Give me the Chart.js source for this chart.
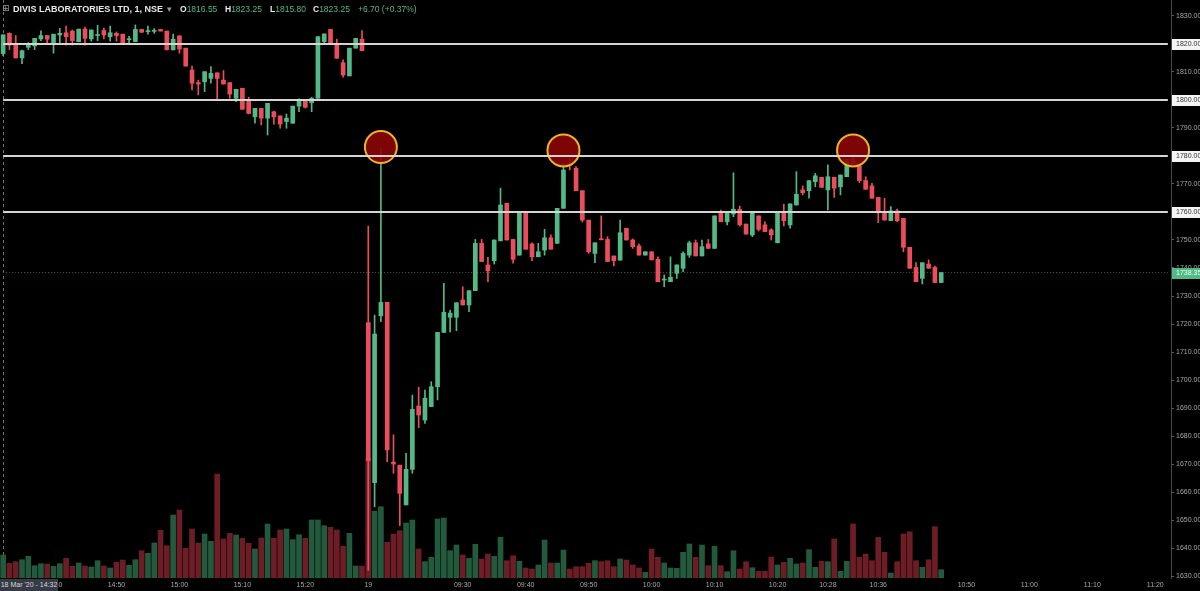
<!DOCTYPE html>
<html>
<head>
<meta charset="utf-8">
<script src="https://cdn.jsdelivr.net/npm/chart.js@4.4.0/dist/chart.umd.min.js"></script>
<style>
  html, body { margin: 0; padding: 0; background: #000; }
  #wrap { position: relative; width: 1200px; height: 591px; }
  #legend span { position: absolute; top: 4px; font: 8.5px "Liberation Sans", Arial, sans-serif; white-space: nowrap; line-height: 10px; }
  #legend .name { font-weight: bold; font-size: 9px; color: #e8e8e8; }
  #legend .k { color: #e8e8e8; }
  #legend .v { color: #53b987; }
  #dateBox { position: absolute; left: 0; top: 579px; width: 58px; height: 12px; background: #363a45;
             color: #d8d8d8; font: 7px "Liberation Sans", Arial, sans-serif; line-height: 12px; text-align: center; }
</style>
</head>
<body>
<div id="wrap">
  <canvas id="chart"></canvas>
  <div id="legend">
    <span style="left:2px;top:3px;color:#9a9a9a;font-size:9px;font-family:'DejaVu Sans'">⊞</span>
    <span class="name" style="left:13px">DIVIS LABORATORIES LTD, 1, NSE</span>
    <span style="left:167px;color:#9a9a9a">▾</span>
    <span style="left:180px"><b class="k">O</b><i class="v" style="font-style:normal">1816.55</i></span>
    <span style="left:225px"><b class="k">H</b><i class="v" style="font-style:normal">1823.25</i></span>
    <span style="left:270px"><b class="k">L</b><i class="v" style="font-style:normal">1815.80</i></span>
    <span style="left:313px"><b class="k">C</b><i class="v" style="font-style:normal">1823.25</i></span>
    <span class="v" style="left:358px">+6.70 (+0.37%)</span>
  </div>
  <div id="dateBox">18 Mar '20 - 14:32</div>
</div>
<script>
// 1-minute candles: 18 Mar 14:32-15:29, then 19 Mar 09:15-10:46
const open = [
  1816.55,1823.8,1819.6,1815,1818.8,1819.3,1821.8,1823,1820.5,1823.2,
  1824,1824.6,1820.8,1825.3,1821.8,1823,1824.8,1822.6,1823.8,1823.5,
  1821.5,1820.8,1825.2,1824.4,1824.5,1825.2,1824.6,1817.9,1822.9,1818.5,
  1810.7,1806.2,1806.5,1807.7,1809.7,1807.1,1806.2,1800.6,1804.2,1800,
  1794,1797,1793.5,1795.8,1794.3,1792.3,1791.7,1797.8,1799.6,1799,
  1800.6,1820.8,1825.2,1819.6,1813.3,1808.6,1818.5,1821.7,
  1720.5,1663.3,
  1722.9,1727.7,1670.7,1669.6,1655.4,1668.1,1690.7,1685.7,1690.5,1697.6,
  1717,1722.4,1722.4,1728.6,1726.8,1731.9,1748.8,1741.1,1742.6,1749.7,
  1763.1,1750.2,1744.6,1759.7,1748.6,1744,1746.4,1750.8,1748.8,1761.3,
  1776.9,1775.6,1767.6,1757.1,1745.2,1750.3,1750.2,1744.3,1742.8,1754.2,
  1750,1747.9,1744.6,1745.8,1743.1,1735.7,1735.1,1738.1,1739.9,1744.6,
  1749,1744.3,1748.6,1747,1759.7,1756.5,1759.3,1761,1755.7,1751.8,
  1758.6,1755.4,1753.6,1749,1759.7,1755.4,1762.5,1767.9,1767.6,1770.8,
  1772.4,1767.9,1772.4,1769,1772.6,1778.8,1776.4,1771.2,1769.3,1765.2,
  1759.7,1756.9,1760.4,1757.7,1747.4,1740.2,1736.3,1741.4,1740.2,1734.8
];
const high = [
  1823.25,1824,1823,1817.8,1820.5,1822,1824.7,1823,1823.5,1825.6,
  1826.4,1825,1825.3,1826,1825,1826.7,1825.7,1826.4,1824.3,1823.5,
  1822.7,1826.8,1825.2,1826.4,1825.5,1825.2,1824.6,1823.5,1822.9,1818.5,
  1812.1,1807.1,1810.1,1811.9,1809.7,1810.5,1806.2,1803.8,1804.2,1801,
  1797,1797,1798.8,1796,1794.3,1795,1797.8,1800.4,1799.6,1801,
  1822.6,1823.6,1825.2,1821.7,1814.3,1818.5,1822,1824.8,
  1755,1723.2,
  1782.7,1727.7,1680.4,1669.6,1673.8,1694.6,1697.4,1696.4,1699.4,1717,
  1734.5,1725,1727.6,1733.3,1731.9,1750.2,1750.2,1743.8,1750,1768.5,
  1763.1,1750.2,1759.7,1759.7,1749,1748.8,1753.8,1751.8,1761.3,1777.6,
  1779.2,1776.2,1767.6,1757.1,1749,1758.6,1751.2,1744.3,1757.1,1754.2,
  1750.4,1748.6,1745.8,1745.8,1744,1737.5,1744,1741.1,1745.8,1749.6,
  1750,1750,1750.2,1758.6,1760.7,1760,1774,1762.1,1755.7,1759.7,
  1758.6,1756.5,1754,1760.1,1762.8,1762.9,1774.4,1769.3,1771.2,1773.8,
  1772.4,1776.8,1772.4,1773.2,1778.8,1780.7,1776.4,1772.6,1770.2,1765.2,
  1764.9,1761.9,1761,1757.7,1747.4,1741.9,1741.9,1742.9,1740.7,1738.35
];
const low = [
  1815.8,1818,1815,1813,1818,1818,1821.2,1819.8,1816.7,1820.5,
  1819.6,1819.6,1820.8,1819.6,1821,1821.2,1821.8,1821,1821,1820,
  1820,1820.8,1824,1823.5,1823.8,1824.6,1817.9,1817.9,1816.7,1812.1,
  1803.6,1801.8,1803,1806,1800,1805.7,1800.6,1799.4,1796.7,1795,
  1791.7,1791.1,1787.5,1791.4,1789.9,1789.9,1791.7,1795.8,1797.1,1795.8,
  1800.6,1820,1820,1814.9,1808.1,1808.6,1818.5,1817.6,
  1632,1654.7,
  1720.8,1670.8,1666.7,1648,1655.4,1666.7,1683,1684.5,1690.5,1692.9,
  1717,1717.2,1717.6,1726.8,1724.4,1731.9,1742.3,1735.1,1741.4,1749.7,
  1750,1741.7,1744.6,1746.7,1742.6,1744,1744.6,1746.7,1748.8,1761.3,
  1775,1767.6,1756.4,1745.2,1741.9,1750,1742.3,1740.7,1742.8,1750,
  1747,1744.6,1744.6,1742.9,1735.1,1733.3,1735.1,1736.3,1738.7,1743.8,
  1744.3,1744.3,1747,1747,1756.5,1755.4,1758.3,1755,1752.1,1751.2,
  1753.2,1753,1750,1749,1755,1754.2,1762.5,1766.1,1764.9,1769,
  1768.8,1760.7,1765.2,1766.1,1772.6,1776.8,1770.5,1768.1,1764.9,1756.2,
  1757.1,1756.9,1756.5,1745.8,1739.9,1735.1,1734.3,1739.9,1734.8,1734.8
];
const close = [
  1823.25,1819.6,1815,1817.6,1819.6,1822,1823,1821.7,1823.5,1823.8,
  1822.6,1821.2,1825.3,1822,1825,1823.3,1823.2,1824,1823,1820,
  1821.7,1825.2,1824.2,1824.6,1824.6,1824.6,1817.9,1821.7,1818.2,1812.1,
  1806,1805.7,1810.1,1809.5,1807.7,1805.7,1802.1,1803.8,1796.7,1795.2,
  1797,1793.5,1798.8,1794,1791.4,1793.5,1797.8,1799.8,1797.4,1800.6,
  1822.6,1823.6,1820,1814.9,1808.9,1818.5,1822,1817.6,
  1671.2,1716.4,
  1727.7,1675,1670,1659.5,1668.1,1689.5,1687.5,1693.5,1697.6,1717,
  1724.2,1723.9,1727.6,1726.8,1731.9,1748.8,1742.3,1739,1750,1762.5,
  1750,1743.1,1759.7,1746.7,1744,1745.8,1750.8,1746.7,1761.3,1775,
  1776.8,1767.6,1757.1,1745.8,1749,1750.1,1742.3,1742.6,1752.6,1750,
  1747.6,1744.6,1745.8,1742.9,1735.1,1735.8,1736.7,1741.1,1745.2,1749,
  1744.3,1747.6,1747,1758.6,1756.5,1759.5,1761,1755.4,1752.1,1759.7,
  1753.8,1753,1751.8,1760.1,1756.9,1762.9,1766.3,1766.9,1771.2,1772.9,
  1768.8,1772.6,1768.5,1773.2,1778.8,1776.8,1771.2,1768.1,1764.9,1759.7,
  1757.1,1760.4,1756.9,1747.4,1739.9,1735.1,1741.9,1739.9,1734.8,1738.35
];
const volume = [
  11500,7350,8150,9150,10850,6150,7150,7000,5850,7150,
  9850,5850,7500,6000,5500,8650,6000,5000,7850,9000,
  6350,9150,13650,12350,17500,23850,16150,31500,34000,14850,
  24500,17500,22000,18350,52000,19500,22350,21500,19850,17350,
  14500,20000,27000,19850,24000,24500,19150,21650,19850,29000,
  29000,26150,25350,24000,15850,22350,6000,6000,
  60000,33350,
  35650,17850,22000,23650,27500,29000,14500,8150,10350,29500,
  30000,13650,16500,11500,9850,16850,9500,12000,10850,20350,
  8650,11150,8350,5000,4500,6500,19000,7500,7500,14000,
  4500,5650,5650,7350,8650,8150,8650,5650,9500,9000,
  6500,5000,2850,14500,10350,7500,5000,4850,12850,17000,
  10350,16500,6150,15850,6150,3150,13650,4500,8150,5150,
  3350,3350,10500,6500,7850,9850,7000,7500,14150,5350,
  8350,8150,19500,3350,8350,27000,10350,12000,8650,20350,
  12850,2500,8150,22000,23150,8650,5350,9150,25650,4150
];

const levels = [1820, 1800, 1780, 1760];
const lastPrice = 1738.35;
const markIdx = [60, 89, 135];
const markPrice = [1783.2, 1782.0, 1782.0];
const crossIdx = 0;
const yTicks = [1630,1640,1650,1660,1670,1680,1690,1700,1710,1720,1730,1740,1750,1760,1770,1780,1790,1800,1810,1820,1830];
const xTickCats = ['14:40','14:50','15:00','15:10','15:20','09:15','09:30','09:40','09:50','10:00','10:10','10:20','10:28','10:36','10:50','11:00','11:10','11:20'];
const xTickText = ['14:40','14:50','15:00','15:10','15:20','19','09:30','09:40','09:50','10:00','10:10','10:20','10:28','10:36','10:50','11:00','11:10','11:20'];

// time slots: 18 Mar 14:32..15:29, 19 Mar 09:15..11:22 (empty future space)
function hhmm(m) { return String(Math.floor(m / 60)).padStart(2, '0') + ':' + String(m % 60).padStart(2, '0'); }
const categories = [];
for (let m = 14 * 60 + 32; m <= 15 * 60 + 29; m++) categories.push(hhmm(m));
for (let m = 9 * 60 + 15; m <= 11 * 60 + 22; m++) categories.push(hhmm(m));

const UP = '#53b987', DOWN = '#eb4d5c';
const VUP = '#235a3d', VDOWN = '#6c1d26';
const isUp = close.map((c, i) => c >= open[i]);

const levelSets = levels.map(lv => ({
  type: 'line', data: categories.map(() => lv), borderColor: '#d4d4d4', borderWidth: 2,
  pointRadius: 0, order: 0, yAxisID: 'y'
}));

const markData = categories.map(() => null);
markIdx.forEach((k, j) => { markData[k] = markPrice[j]; });

const overlay = {
  id: 'overlay',
  beforeDatasetsDraw(chart) {
    const { ctx, chartArea: a, scales: { x } } = chart;
    const cx = Math.round(x.getPixelForValue(crossIdx)) + 0.5;
    ctx.save();
    ctx.strokeStyle = '#707070'; ctx.lineWidth = 1; ctx.setLineDash([3, 3]);
    ctx.beginPath(); ctx.moveTo(cx, a.top); ctx.lineTo(cx, a.bottom); ctx.stroke();
    ctx.restore();
  },
  afterDraw(chart) {
    const { ctx, scales: { y } } = chart;
    const left = y.left, w = y.right - y.left;
    ctx.save();
    ctx.font = '7px "Liberation Sans", Arial, sans-serif';
    ctx.textBaseline = 'middle';
    levels.forEach(v => {
      const py = Math.round(y.getPixelForValue(v));
      ctx.fillStyle = '#f4f4f4'; ctx.fillRect(left + 1, py - 5, w - 1, 11);
      ctx.fillStyle = '#333'; ctx.fillText(v.toFixed(2), left + 5, py + 0.5);
    });
    const pp = Math.round(y.getPixelForValue(lastPrice));
    ctx.fillStyle = UP; ctx.fillRect(left + 1, pp - 5, w - 1, 11);
    ctx.fillStyle = '#e8fff2'; ctx.fillText(lastPrice.toFixed(2), left + 5, pp + 0.5);
    ctx.restore();
  }
};

new Chart(document.getElementById('chart'), {
  type: 'bar',
  data: {
    labels: categories,
    datasets: [
      ...levelSets,
      {
        type: 'line', data: markData, showLine: false, order: 1, yAxisID: 'y',
        pointRadius: 16, pointBackgroundColor: 'rgba(140,6,6,0.9)',
        pointBorderColor: '#eab424', pointBorderWidth: 2
      },
      {
        data: open.map((o, i) => [o, close[i]]), yAxisID: 'y', order: 2, grouped: false,
        barThickness: 4, minBarLength: 1,
        backgroundColor: isUp.map(u => u ? UP : DOWN)
      },
      {
        data: low.map((l, i) => [l, high[i]]), yAxisID: 'y', order: 3, grouped: false,
        barThickness: 1,
        backgroundColor: isUp.map(u => u ? UP : DOWN)
      },
      {
        data: volume, yAxisID: 'yv', order: 4, grouped: false, barThickness: 5,
        backgroundColor: isUp.map(u => u ? VUP : VDOWN)
      },
      {
        type: 'line', data: categories.map(() => lastPrice), yAxisID: 'y', order: 5,
        borderColor: '#3d6e58', borderWidth: 1, borderDash: [1, 2], pointRadius: 0
      }
    ]
  },
  options: {
    responsive: true,
    maintainAspectRatio: false,
    animation: false,
    layout: { padding: 0, autoPadding: false },
    plugins: { legend: { display: false }, tooltip: { enabled: false } },
    scales: {
      x: {
        offset: true,
        grid: { display: false, drawTicks: false },
        border: { display: false },
        afterFit(s) { s.height = 13; s.paddingLeft = 0; s.paddingRight = 0; },
        ticks: {
          autoSkip: false, maxRotation: 0, minRotation: 0, padding: 3,
          color: '#a8a8a8', font: { size: 7, family: '"Liberation Sans", Arial, sans-serif' },
          callback(val) {
            const k = xTickCats.indexOf(this.getLabelForValue(val));
            return k >= 0 ? xTickText[k] : null;
          }
        }
      },
      y: {
        position: 'right',
        min: 1629.3, max: 1835.7,
        afterBuildTicks(s) { s.ticks = yTicks.map(v => ({ value: v })); },
        afterFit(s) { s.width = 29; s.paddingTop = 0; s.paddingBottom = 0; },
        grid: { drawOnChartArea: false, drawTicks: true, tickLength: 3, color: '#5a5a5a' },
        border: { display: true, color: '#4a4a4a' },
        ticks: {
          padding: 2, color: '#a8a8a8',
          font: { size: 7, family: '"Liberation Sans", Arial, sans-serif' },
          callback: v => Number(v).toFixed(2)
        }
      },
      yv: { display: false, min: 0, max: 289000 }
    }
  },
  plugins: [overlay]
});
</script>
</body>
</html>
